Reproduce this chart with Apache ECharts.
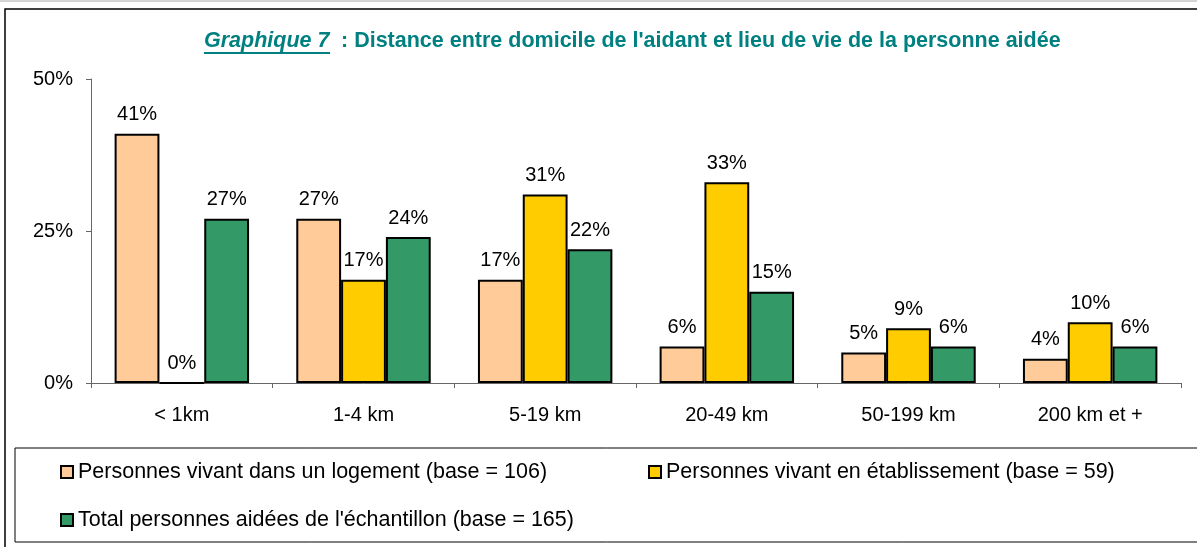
<!DOCTYPE html>
<html>
<head>
<meta charset="utf-8">
<script src="https://cdn.jsdelivr.net/npm/echarts@6/dist/echarts.min.js"></script>
<style>
  html, body { margin: 0; padding: 0; background: #fff; }
  #main { width: 1197px; height: 547px; }
</style>
</head>
<body>
<div id="main"></div>
<script>
document.addEventListener('DOMContentLoaded', function() {
    let categories = ['< 1km', '1-4 km', '5-19 km', '20-49 km', '50-199 km', '200 km et +'];
    let seriesNames = [
        'Personnes vivant dans un logement (base = 106)',
        'Personnes vivant en établissement (base = 59)',
        'Total personnes aidées de l\'échantillon (base = 165)'
    ];
    let logement = [41, 27, 17, 6, 5, 4];
    let etablissement = [0, 17, 31, 33, 9, 10];
    let total = [27, 24, 22, 15, 6, 6];
    let yTicks = [0, 25, 50];

    let font = "'Liberation Sans', Arial, sans-serif";
    let colors = ['#FFCC99', '#FFCC00', '#339966'];
    let teal = '#008080';

    function bar(name, data, color) {
        return {
            name: name,
            type: 'bar',
            data: data,
            barGap: '0%',
            barCategoryGap: '26%',
            itemStyle: { color: color, borderColor: '#000', borderWidth: 2 },
            label: {
                show: true,
                position: 'top',
                distance: 9,
                formatter: '{c}%',
                color: '#000',
                fontSize: 20,
                fontFamily: font
            }
        };
    }

    function legendItem(name, left, top) {
        return {
            data: [name],
            left: left,
            top: top,
            padding: 0,
            itemWidth: 12,
            itemHeight: 12,
            itemGap: 0,
            icon: 'rect',
            textStyle: { color: '#000', fontSize: 21.5, fontFamily: font }
        };
    }

    var myChart = echarts.init(document.getElementById('main'));

    var option = {
        animation: false,
        backgroundColor: '#fff',
        legend: [
            legendItem(seriesNames[0], 60, 461),
            legendItem(seriesNames[1], 648, 461),
            legendItem(seriesNames[2], 60, 509)
        ],
        grid: { left: 91, right: 16, top: 79, bottom: 164 },
        xAxis: {
            type: 'category',
            data: categories,
            axisLine: { lineStyle: { color: '#666', width: 1 } },
            axisTick: { show: true, length: 5, lineStyle: { color: '#666' } },
            axisLabel: { color: '#000', fontSize: 20, fontFamily: font, margin: 22 }
        },
        yAxis: {
            type: 'value',
            min: yTicks[0],
            max: yTicks[yTicks.length - 1],
            interval: yTicks[1] - yTicks[0],
            axisLine: { show: true, lineStyle: { color: '#666', width: 1 } },
            axisTick: { show: true, length: 5, lineStyle: { color: '#666' } },
            splitLine: { show: false },
            axisLabel: { color: '#000', fontSize: 20, fontFamily: font, margin: 18, formatter: '{value}%' }
        },
        graphic: [
            { type: 'rect', shape: { x: 0, y: 0.5, width: 1200, height: 1 }, style: { fill: '#aaa' }, silent: true },
            { type: 'rect', shape: { x: 5, y: 9, width: 1200, height: 545 }, style: { fill: 'none', stroke: '#000', lineWidth: 1.5 }, silent: true, z: -1 },
            { type: 'rect', shape: { x: 15, y: 448, width: 1200, height: 94 }, style: { fill: 'none', stroke: '#000', lineWidth: 1 }, silent: true, z: -1 },
            // title: underlined italic "Graphique 7", then the main text
            {
                type: 'text', x: 204, y: 41, silent: true,
                style: { text: 'Graphique 7', fill: teal, font: "italic bold 21.5px 'Liberation Sans', Arial, sans-serif", verticalAlign: 'middle' }
            },
            {
                type: 'text', x: 341, y: 41, silent: true,
                style: { text: ': Distance entre domicile de l\'aidant et lieu de vie de la personne aidée', fill: teal, font: "bold 21.5px 'Liberation Sans', Arial, sans-serif", verticalAlign: 'middle' }
            },
            { type: 'line', shape: { x1: 204, y1: 53, x2: 330, y2: 53 }, style: { stroke: teal, lineWidth: 2 }, silent: true }
        ],
        series: [
            bar(seriesNames[0], logement, colors[0]),
            bar(seriesNames[1], etablissement, colors[1]),
            bar(seriesNames[2], total, colors[2])
        ]
    };

    myChart.setOption(option);
});
</script>
</body>
</html>
